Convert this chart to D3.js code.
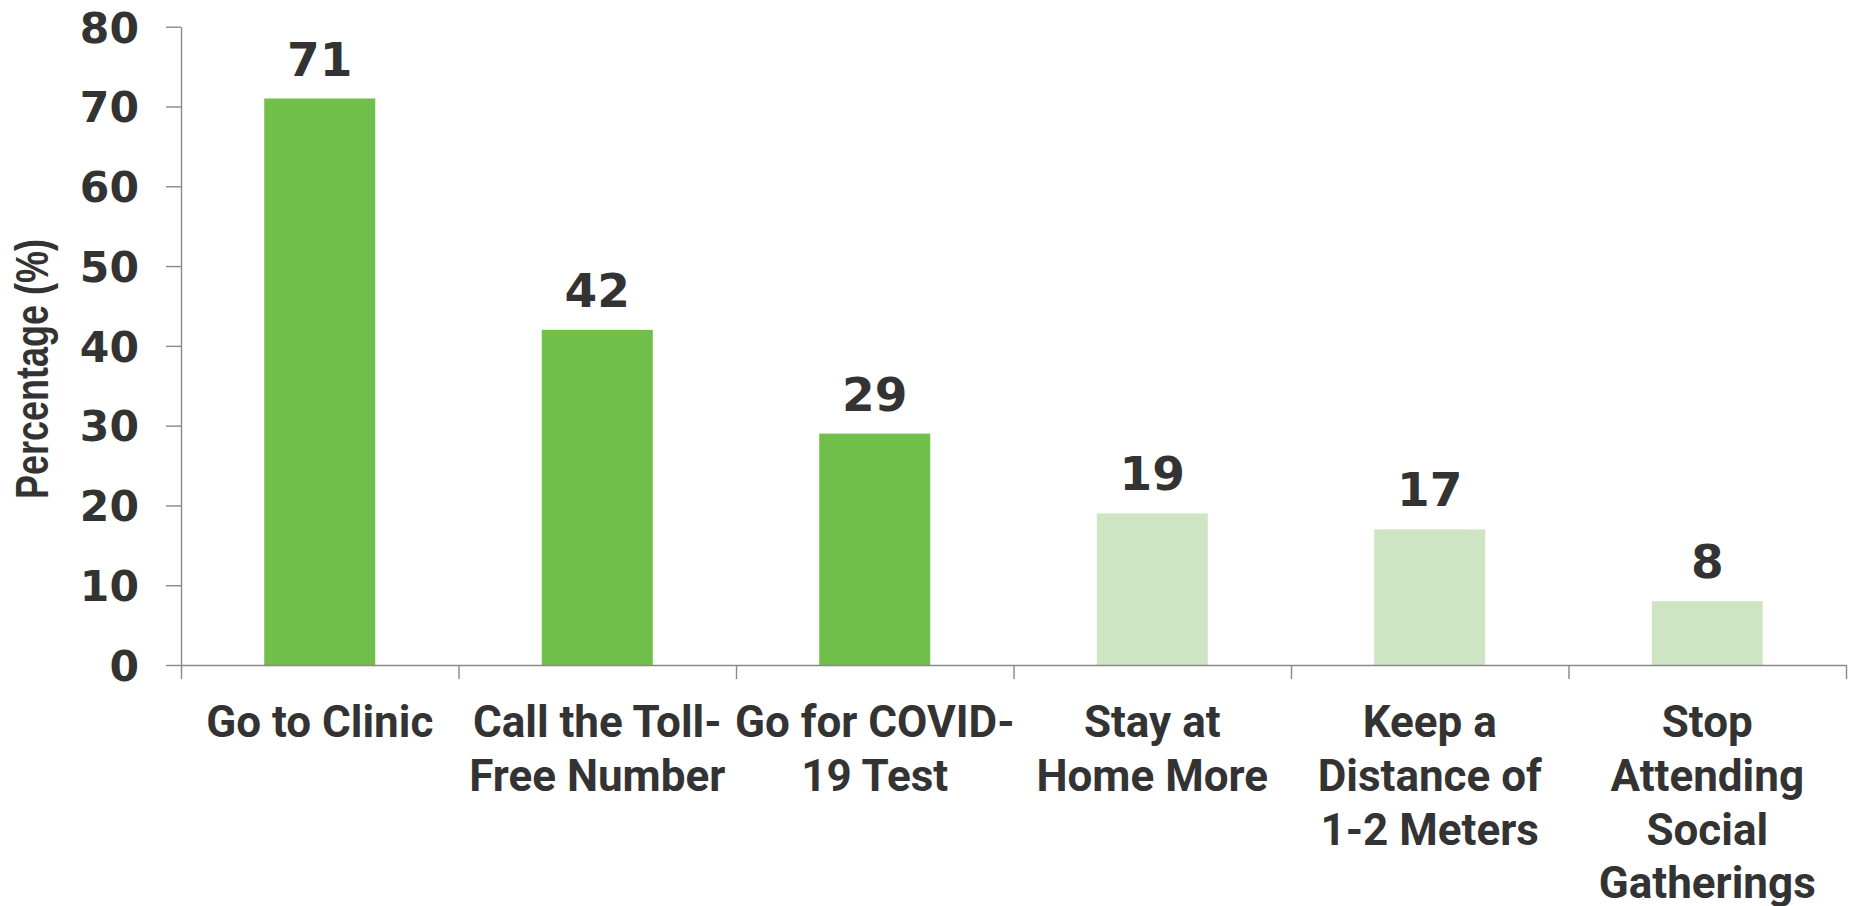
<!DOCTYPE html>
<html>
<head>
<meta charset="utf-8">
<script src="https://cdn.jsdelivr.net/npm/d3@7"></script>
<style>
  body { margin: 0; background: #fff; }
  svg { display: block; }
</style>
</head>
<body>
<svg id="chart"></svg>
<script>
const width = 1851
const height = 906

const marginTop = 26.7
const marginRight = 5
const marginBottom = 241
const marginLeft = 181

// categories (line breaks as in the original axis labels)
const categories = [
  "Go to Clinic",
  "Call the Toll-\nFree Number",
  "Go for COVID-\n19 Test",
  "Stay at\nHome More",
  "Keep a\nDistance of\n1-2 Meters",
  "Stop\nAttending\nSocial\nGatherings"
]
const values = [71, 42, 29, 19, 17, 8]
const groups = ["top", "top", "top", "other", "other", "other"]
const yTicks = [0, 10, 20, 30, 40, 50, 60, 70, 80]
const yTitle = "Percentage (%)"

const textColor = "#333333"
const axisColor = "#898989"

const svg = d3.select("#chart")
  .attr("width", width)
  .attr("height", height)

const xScale = d3.scaleBand()
  .domain(categories)
  .range([marginLeft, width - marginRight])
  .paddingInner(0.6)
  .paddingOuter(0.3)

// band boundaries for the category tick marks
const xEdges = d3.scaleLinear()
  .domain([0, categories.length])
  .range([marginLeft, width - marginRight])

const yScale = d3.scaleLinear()
  .domain([0, 80])
  .range([height - marginBottom, marginTop])

const color = d3.scaleOrdinal()
  .domain(["top", "other"])
  .range(["#70bf4a", "#cde5c3"])

const data = categories.map((c, i) => ({ cat: c, value: values[i], group: groups[i] }))

svg.selectAll("rect.bar")
  .data(data)
  .enter()
  .append("rect")
  .attr("class", "bar")
  .attr("x", d => xScale(d.cat))
  .attr("width", xScale.bandwidth())
  .attr("y", d => yScale(d.value))
  .attr("height", d => yScale(0) - yScale(d.value))
  .attr("fill", d => color(d.group))

// value labels
svg.selectAll("text.value")
  .data(data)
  .enter()
  .append("text")
  .attr("class", "value")
  .attr("x", d => xScale(d.cat) + xScale.bandwidth() / 2)
  .attr("y", d => yScale(d.value) - 23)
  .attr("text-anchor", "middle")
  .style("font-family", "'DejaVu Sans', sans-serif")
  .style("font-weight", "bold")
  .style("font-size", "47px")
  .style("fill", textColor)
  .text(d => d.value)

// y axis
const yAxis = svg.append("g")
  .attr("transform", `translate(${marginLeft}, 0)`)
  .call(d3.axisLeft(yScale).tickValues(yTicks).tickSize(15).tickSizeOuter(0).tickPadding(27))

yAxis.selectAll("path, line")
  .attr("stroke", axisColor)
  .attr("stroke-width", 1.4)
yAxis.selectAll("text")
  .attr("dy", "0.36em")
  .style("font-family", "'DejaVu Sans', sans-serif")
  .style("font-weight", "bold")
  .style("font-size", "42.5px")
  .style("fill", textColor)

// x axis: ticks between the categories
const xAxis = svg.append("g")
  .attr("transform", `translate(0, ${yScale(0)})`)
  .call(d3.axisBottom(xEdges).tickValues(d3.range(categories.length + 1)).tickSize(14).tickSizeOuter(0).tickFormat(""))

xAxis.selectAll("path, line")
  .attr("stroke", axisColor)
  .attr("stroke-width", 1.4)

// category labels
const catLabels = svg.selectAll("text.cat")
  .data(categories)
  .enter()
  .append("text")
  .attr("class", "cat")
  .attr("text-anchor", "middle")
  .style("font-family", "Roboto, sans-serif")
  .style("font-weight", "bold")
  .style("font-size", "44px")
  .style("fill", textColor)

catLabels.each(function(c) {
  const cx = xScale(c) + xScale.bandwidth() / 2
  c.split("\n").forEach((line, i) => {
    d3.select(this).append("tspan")
      .attr("x", cx)
      .attr("y", 737 + i * 53.8)
      .text(line)
  })
})

// y axis title
svg.append("text")
  .attr("transform", `translate(48, 369) rotate(-90)`)
  .attr("text-anchor", "middle")
  .style("font-family", "'Liberation Sans Narrow', 'Liberation Sans', sans-serif")
  .style("font-weight", "bold")
  .style("font-size", "46px")
  .style("fill", textColor)
  .attr("textLength", 260)
  .attr("lengthAdjust", "spacingAndGlyphs")
  .text(yTitle)
</script>
</body>
</html>
